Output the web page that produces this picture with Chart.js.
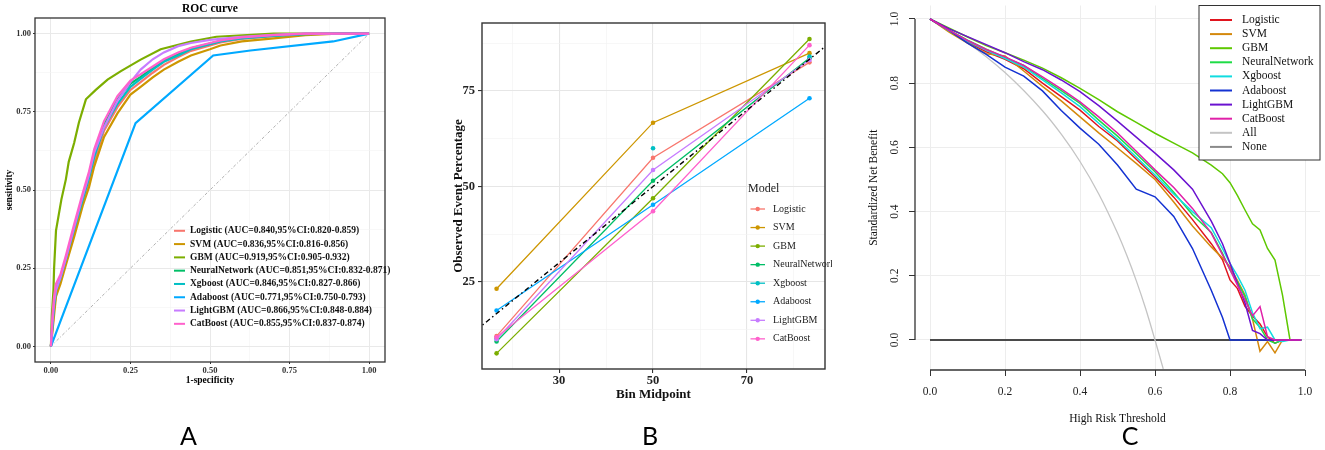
<!DOCTYPE html>
<html><head><meta charset="utf-8">
<script src="https://cdn.jsdelivr.net/npm/chart.js@4.4.1/dist/chart.umd.min.js"></script>
<style>
html,body{margin:0;padding:0;background:#fff;width:1325px;height:450px;overflow:hidden;position:relative}
canvas{position:absolute;top:0}
</style></head><body>
<canvas id="cA" width="430" height="450" style="left:0px;width:430px;height:450px"></canvas>
<canvas id="cB" width="450" height="450" style="left:430px;width:450px;height:450px"></canvas>
<canvas id="cC" width="470" height="450" style="left:855px;width:470px;height:450px"></canvas>
<script>
// ---------------- DATA ----------------
const modelNames = ['Logistic','SVM','GBM','NeuralNetwork','Xgboost','Adaboost','LightGBM','CatBoost'];
const aucLabels = [
  'Logistic (AUC=0.840,95%CI:0.820-0.859)',
  'SVM (AUC=0.836,95%CI:0.816-0.856)',
  'GBM (AUC=0.919,95%CI:0.905-0.932)',
  'NeuralNetwork (AUC=0.851,95%CI:0.832-0.871)',
  'Xgboost (AUC=0.846,95%CI:0.827-0.866)',
  'Adaboost (AUC=0.771,95%CI:0.750-0.793)',
  'LightGBM (AUC=0.866,95%CI:0.848-0.884)',
  'CatBoost (AUC=0.855,95%CI:0.837-0.874)'
];
// Panel A: ROC
const rocFpr          = [0,0.005,0.01,0.016,0.03,0.047,0.073,0.1,0.12,0.136,0.167,0.209,0.25,0.282,0.32,0.355,0.4,0.44,0.5,0.533,0.6,0.7,0.8,0.9,1.0];
const rocLogistic     = [0,0.06,0.12,0.17,0.21,0.27,0.365,0.46,0.525,0.59,0.69,0.765,0.82,0.845,0.875,0.9,0.925,0.945,0.962,0.972,0.983,0.992,0.998,1,1];
const rocSVM          = [0,0.05,0.1,0.16,0.2,0.26,0.35,0.45,0.51,0.575,0.67,0.745,0.805,0.83,0.86,0.885,0.91,0.93,0.95,0.962,0.975,0.985,0.995,1,1];
const rocNeuralNetwork= [0,0.08,0.14,0.18,0.22,0.28,0.38,0.48,0.55,0.615,0.71,0.79,0.84,0.862,0.89,0.915,0.935,0.953,0.968,0.977,0.987,0.994,0.999,1,1];
const rocXgboost      = [0,0.07,0.13,0.18,0.22,0.28,0.375,0.47,0.54,0.605,0.70,0.775,0.83,0.855,0.885,0.91,0.93,0.95,0.966,0.975,0.985,0.993,0.998,1,1];
const rocLightGBM     = [0,0.08,0.14,0.18,0.22,0.28,0.38,0.48,0.55,0.62,0.70,0.785,0.845,0.885,0.918,0.94,0.96,0.97,0.98,0.983,0.99,0.996,1,1,1];
const rocCatBoost     = [0,0.1,0.16,0.2,0.23,0.29,0.39,0.49,0.56,0.63,0.72,0.80,0.85,0.87,0.895,0.918,0.94,0.955,0.97,0.978,0.988,0.995,1,1,1];
const rocGbmFpr = [0,0.003,0.008,0.01,0.016,0.033,0.047,0.056,0.073,0.088,0.11,0.141,0.178,0.22,0.282,0.345,0.44,0.52,0.7,1];
const rocGbmTpr = [0,0.1,0.18,0.25,0.37,0.47,0.534,0.59,0.65,0.716,0.79,0.82,0.853,0.88,0.917,0.95,0.975,0.99,1,1];
const rocAdaFpr = [0,0.266,0.51,0.627,0.887,1];
const rocAdaTpr = [0,0.714,0.93,0.946,0.975,1];
const rocRefLine = [0,1];
const rocTicks = [0,0.125,0.25,0.375,0.5,0.625,0.75,0.875,1];

// Panel B: calibration
const binMid = [16.7, 50, 83.3];
const calLogistic      = [10.8, 57.5, 82.5];
const calSVM           = [23.2, 66.7, 84.9];
const calGBM           = [6.3, 46.9, 88.6];
const calNeuralNetwork = [9.4, 51.5, 83.6];
const calXgboost       = [10.2, 60.0, 84.0];
const calAdaboost      = [17.5, 45.2, 73.1];
const calLightGBM      = [10.0, 54.3, 83.1];
const calCatBoost      = [10.5, 43.5, 87.0];
const calRefLine = [0, 100];
const calXTicks = [20,30,40,50,60,70,80];
const calXMajor = [30,50,70];
const calYTicks = [12.5,25,37.5,50,62.5,75,87.5];
const calYMajor = [25,50,75];

// Panel C: decision curve
const dcaT = [0,0.05,0.1,0.15,0.2,0.25,0.3,0.35,0.4,0.45,0.5,0.55,0.6,0.65,0.7,0.75,0.78,0.8,0.82,0.84,0.86,0.88,0.9,0.92,0.94,0.96,0.99];
const dcaLogistic      = [1,.963,.928,.898,.874,.845,.8,.758,.716,.665,.62,.563,.508,.445,.375,.3,.25,.187,.16,.105,.075,.05,.01,-.01,0,0,0];
const dcaSVM           = [1,.96,.925,.892,.885,.838,.79,.745,.695,.645,.598,.55,.5,.43,.355,.29,.255,.228,.185,.14,.065,-.035,-.005,-.04,0,0,0];
const dcaGBM           = [1,.972,.944,.917,.895,.872,.847,.817,.784,.749,.711,.678,.644,.613,.583,.545,.518,.49,.45,.405,.362,.343,.285,.249,.14,0,0];
const dcaNeuralNetwork = [1,.966,.934,.906,.88,.855,.815,.777,.737,.685,.635,.58,.524,.46,.39,.335,.27,.218,.18,.135,.065,.04,0,-.01,0,0,0];
const dcaXgboost       = [1,.964,.93,.902,.877,.85,.81,.77,.727,.675,.625,.57,.514,.455,.4,.35,.285,.239,.2,.155,.085,.035,.04,0,-.005,0,0];
const dcaAdaboost      = [1,.965,.925,.89,.85,.822,.776,.715,.66,.61,.545,.47,.446,.385,.285,.155,.07,0,0,0,0,0,0,0,0,0,0];
const dcaLightGBM      = [1,.97,.945,.92,.895,.867,.842,.81,.774,.73,.682,.632,.582,.53,.47,.37,.3,.239,.175,.115,.03,.02,0,0,0,0,0];
const dcaCatBoost      = [1,.965,.933,.905,.882,.855,.82,.782,.742,.695,.645,.588,.53,.475,.41,.333,.265,.22,.17,.125,.075,.104,.01,0,0,0,0];
const dcaAllT = [0,0.1,0.2,0.3,0.35,0.4,0.45,0.5,0.525,0.55,0.575,0.6,0.622];
const dcaAll  = [1,0.926,0.833,0.714,0.641,0.556,0.455,0.333,0.263,0.185,0.098,0.0,-0.09];
const dcaNoneT = [0, 0.99];
const dcaNone  = [0, 0];
const dcaTicks = [0,0.2,0.4,0.6,0.8,1.0];
const dcaLegend = ['Logistic','SVM','GBM','NeuralNetwork','Xgboost','Adaboost','LightGBM','CatBoost','All','None'];

// ---------------- STYLE ----------------
const serif = "'Liberation Serif','Times New Roman',serif";
const ggColors = ['#F8766D','#CD9600','#7CAE00','#00BE67','#00BFC4','#00A9FF','#C77CFF','#FF61CC'];
const dcaColors = ['#E0141E','#D4880C','#5EC800','#1EDC46','#10DCE0','#1432D2','#6A12D0','#E020A8','#C4C4C4','#6E6E6E'];

function pts(xs, ys){ return xs.map((x,i)=>({x:x, y:ys[i]})); }
const near = (v, arr) => arr.some(a => Math.abs(a - v) < 1e-6);

// ---------------- PANEL A ----------------
(function(){
  const isMajor = v => Math.abs(v*4 - Math.round(v*4)) < 1e-6;
  const series = [
    pts(rocFpr, rocLogistic), pts(rocFpr, rocSVM), pts(rocGbmFpr, rocGbmTpr),
    pts(rocFpr, rocNeuralNetwork), pts(rocFpr, rocXgboost), pts(rocAdaFpr, rocAdaTpr),
    pts(rocFpr, rocLightGBM), pts(rocFpr, rocCatBoost)
  ];
  const datasets = [{data: pts(rocRefLine, rocRefLine), borderColor:'#9a9a9a', borderWidth:0.8, borderDash:[3,2,1,2], pointRadius:0, showLine:true, order:100}];
  series.forEach((d,i)=>datasets.push({data:d, borderColor:ggColors[i], borderWidth:2.2, pointRadius:0, showLine:true, order:50-i}));
  const axis = () => ({
    type:'linear', min:-0.05, max:1.05,
    afterBuildTicks: s => { s.ticks = rocTicks.map(v=>({value:v})); },
    ticks:{autoSkip:false, maxRotation:0, padding:2, color:'#333',
      font:{family:serif, size:8.5, weight:'bold'},
      callback: v => isMajor(v) ? v.toFixed(2) : ''},
    grid:{color: c => (c.tick && isMajor(c.tick.value)) ? '#e9e9e9' : '#f3f3f3',
          lineWidth: c => (c.tick && isMajor(c.tick.value)) ? 1 : 0.6,
          tickColor: c => (c.tick && isMajor(c.tick.value)) ? '#333' : 'rgba(0,0,0,0)',
          tickLength:2, drawTicks:true},
    border:{display:false}
  });
  const xA = axis(); xA.afterFit = s => { s.height = 450 - 362; };
  const yA = axis(); yA.afterFit = s => { s.width = 35; };
  new Chart(document.getElementById('cA'), {
    type:'scatter',
    data:{datasets},
    options:{responsive:false, animation:false, events:[],
      layout:{padding:{top:18, right:45, left:0, bottom:0}},
      plugins:{legend:{display:false}, tooltip:{enabled:false}},
      scales:{x:xA, y:yA}},
    plugins:[{id:'decoA', afterDraw(chart){
      const ctx = chart.ctx, a = chart.chartArea;
      ctx.save();
      ctx.strokeStyle = '#333'; ctx.lineWidth = 1.3;
      ctx.strokeRect(a.left, a.top, a.right-a.left, a.bottom-a.top);
      ctx.fillStyle = '#000'; ctx.textBaseline = 'middle'; ctx.textAlign = 'center';
      ctx.font = 'bold 11.5px ' + serif;
      ctx.fillText('ROC curve', (a.left+a.right)/2, 9.5);
      ctx.font = 'bold 9.5px ' + serif;
      ctx.fillText('1-specificity', (a.left+a.right)/2, 381);
      ctx.save(); ctx.translate(10, (a.top+a.bottom)/2); ctx.rotate(-Math.PI/2);
      ctx.fillText('sensitivity', 0, 0); ctx.restore();
      // legend
      ctx.textAlign = 'left';
      ctx.font = 'bold 9.5px ' + serif;
      aucLabels.forEach((t,i)=>{
        const y = 230.8 + i*13.29;
        ctx.strokeStyle = ggColors[i]; ctx.lineWidth = 2;
        ctx.beginPath(); ctx.moveTo(174, y); ctx.lineTo(185, y); ctx.stroke();
        ctx.fillStyle = '#111';
        ctx.fillText(t, 190, y);
      });
      ctx.font = "25px Lato, 'Open Sans', sans-serif"; ctx.textAlign = 'center'; ctx.textBaseline = 'alphabetic';
      ctx.fillStyle = '#000';
      ctx.fillText('A', 188.5, 445);
      ctx.restore();
    }}]
  });
})();

// ---------------- PANEL B ----------------
(function(){
  const cal = [calLogistic, calSVM, calGBM, calNeuralNetwork, calXgboost, calAdaboost, calLightGBM, calCatBoost];
  const datasets = [];
  cal.forEach((vals,i)=>datasets.push({data: pts(binMid, vals), borderColor:ggColors[i], backgroundColor:ggColors[i],
    pointBackgroundColor:ggColors[i], pointBorderWidth:0, pointRadius:2.3, borderWidth:1.3,
    showLine: modelNames[i] !== 'Xgboost', order:50-i}));
  datasets.push({data: pts(calRefLine, calRefLine), borderColor:'#000', borderWidth:1.4, borderDash:[5,3,1.5,3], pointRadius:0, showLine:true, order:1});
  const mk = (min, max, tks, major, fit, pad) => ({
    type:'linear', min, max,
    afterBuildTicks: s => { s.ticks = tks.map(v=>({value:v})); },
    afterFit: fit,
    ticks:{autoSkip:false, maxRotation:0, padding:pad, color:'#222',
      font:{family:serif, size:12.5, weight:'bold'},
      callback: v => near(v, major) ? String(v) : ''},
    grid:{color: c => (c.tick && near(c.tick.value, major)) ? '#e6e6e6' : '#f1f1f1',
          lineWidth: c => (c.tick && near(c.tick.value, major)) ? 1.1 : 0.6,
          tickColor: c => (c.tick && near(c.tick.value, major)) ? '#333' : 'rgba(0,0,0,0)',
          tickLength:4, drawTicks:true},
    border:{display:false}
  });
  new Chart(document.getElementById('cB'), {
    type:'scatter',
    data:{datasets},
    options:{responsive:false, animation:false, events:[],
      layout:{padding:{top:23, right:55, left:0, bottom:0}},
      plugins:{legend:{display:false}, tooltip:{enabled:false}},
      scales:{
        x: mk(13.6, 86.6, calXTicks, calXMajor, s => { s.height = 450 - 369; }, 0),
        y: mk(2.2, 92.8, calYTicks, calYMajor, s => { s.width = 52; }, 3)
      }},
    plugins:[{id:'decoB', afterDraw(chart){
      const ctx = chart.ctx, a = chart.chartArea;
      ctx.save();
      ctx.strokeStyle = '#333'; ctx.lineWidth = 1.4;
      ctx.strokeRect(a.left, a.top, a.right-a.left, a.bottom-a.top);
      ctx.fillStyle = '#111'; ctx.textBaseline = 'middle'; ctx.textAlign = 'center';
      ctx.font = 'bold 13px ' + serif;
      ctx.fillText('Bin Midpoint', (a.left+a.right)/2, 395);
      ctx.save(); ctx.translate(28.5, (a.top+a.bottom)/2); ctx.rotate(-Math.PI/2);
      ctx.fillText('Observed Event Percentage', 0, 0); ctx.restore();
      // legend
      ctx.save();
      ctx.beginPath(); ctx.rect(0,0,402,450); ctx.clip();
      ctx.textAlign = 'left';
      ctx.font = '12px ' + serif; ctx.fillStyle = '#222';
      ctx.fillText('Model', 318, 188.5);
      ctx.font = '10px ' + serif;
      modelNames.forEach((t,i)=>{
        const y = 209 + i*18.55;
        ctx.strokeStyle = ggColors[i]; ctx.lineWidth = 1.3;
        ctx.beginPath(); ctx.moveTo(320.5, y); ctx.lineTo(335, y); ctx.stroke();
        ctx.fillStyle = ggColors[i];
        ctx.beginPath(); ctx.arc(327.7, y, 2.2, 0, Math.PI*2); ctx.fill();
        ctx.fillStyle = '#222';
        ctx.fillText(t, 343, y);
      });
      ctx.restore();
      ctx.font = "25px Lato, 'Open Sans', sans-serif"; ctx.textAlign = 'center'; ctx.textBaseline = 'alphabetic';
      ctx.fillStyle = '#000';
      ctx.fillText('B', 220, 445);
      ctx.restore();
    }}]
  });
})();

// ---------------- PANEL C ----------------
(function(){
  const dca = [dcaLogistic, dcaSVM, dcaGBM, dcaNeuralNetwork, dcaXgboost, dcaAdaboost, dcaLightGBM, dcaCatBoost];
  const datasets = [
    {data: pts(dcaNoneT, dcaNone), borderColor:'#4a4a4a', borderWidth:1.8, pointRadius:0, showLine:true, order:200},
    {data: pts(dcaAllT, dcaAll), borderColor:dcaColors[8], borderWidth:1.3, pointRadius:0, showLine:true, cubicInterpolationMode:'monotone', order:199}
  ];
  dca.forEach((vals,i)=>datasets.push({data: pts(dcaT, vals), borderColor:dcaColors[i], borderWidth:1.5, pointRadius:0, showLine:true, order:100-i}));
  const mk = (min, max, fit) => ({
    type:'linear', min, max,
    afterBuildTicks: s => { s.ticks = dcaTicks.map(v=>({value:v})); },
    afterFit: fit,
    ticks:{display:false},
    grid:{color:'#ededed', lineWidth:1, tickColor:'#333', tickLength:6, drawTicks:true},
    border:{display:false}
  });
  new Chart(document.getElementById('cC'), {
    type:'scatter',
    data:{datasets},
    options:{responsive:false, animation:false, events:[],
      layout:{padding:{top:5.5, right:5, left:0, bottom:0}},
      plugins:{legend:{display:false}, tooltip:{enabled:false}},
      scales:{
        x: mk(-0.04, 1.04, s => { s.height = 80; }),
        y: mk(-0.0935, 1.042, s => { s.width = 60; })
      }},
    plugins:[{id:'decoC', afterDraw(chart){
      const ctx = chart.ctx, a = chart.chartArea;
      const xs = chart.scales.x, ys = chart.scales.y;
      ctx.save();
      ctx.strokeStyle = '#333'; ctx.lineWidth = 1.3;
      ctx.beginPath();
      ctx.moveTo(a.left, ys.getPixelForValue(1)); ctx.lineTo(a.left, ys.getPixelForValue(0));
      ctx.moveTo(xs.getPixelForValue(0), a.bottom); ctx.lineTo(xs.getPixelForValue(1), a.bottom);
      ctx.stroke();
      ctx.fillStyle = '#222'; ctx.textBaseline = 'middle'; ctx.textAlign = 'center';
      ctx.font = '11.5px ' + serif;
      dcaTicks.forEach(v=>{
        ctx.fillText(v.toFixed(1), xs.getPixelForValue(v), 392);
        ctx.save(); ctx.translate(40, ys.getPixelForValue(v)); ctx.rotate(-Math.PI/2);
        ctx.fillText(v.toFixed(1), 0, 0); ctx.restore();
      });
      ctx.fillStyle = '#111';
      ctx.fillText('High Risk Threshold', (a.left+a.right)/2, 419);
      ctx.save(); ctx.translate(19, (a.top+a.bottom)/2); ctx.rotate(-Math.PI/2);
      ctx.fillText('Standardized Net Benefit', 0, 0); ctx.restore();
      // legend box
      const L = 344, R = a.right, T = a.top, B = 160;
      ctx.fillStyle = '#fff'; ctx.fillRect(L, T, R-L, B-T);
      ctx.strokeStyle = '#333'; ctx.lineWidth = 1; ctx.strokeRect(L, T, R-L, B-T);
      ctx.textAlign = 'left'; ctx.font = '11.5px ' + serif;
      dcaLegend.forEach((t,i)=>{
        const y = 20 + i*14.1;
        ctx.strokeStyle = i === 9 ? '#8a8a8a' : dcaColors[i]; ctx.lineWidth = 2;
        ctx.beginPath(); ctx.moveTo(355, y); ctx.lineTo(377, y); ctx.stroke();
        ctx.fillStyle = '#111';
        ctx.fillText(t, 387, y);
      });
      ctx.font = "25px Lato, 'Open Sans', sans-serif"; ctx.textAlign = 'center'; ctx.textBaseline = 'alphabetic';
      ctx.fillStyle = '#000';
      ctx.fillText('C', 275, 445);
      ctx.restore();
    }}]
  });
})();
</script>
</body></html>
